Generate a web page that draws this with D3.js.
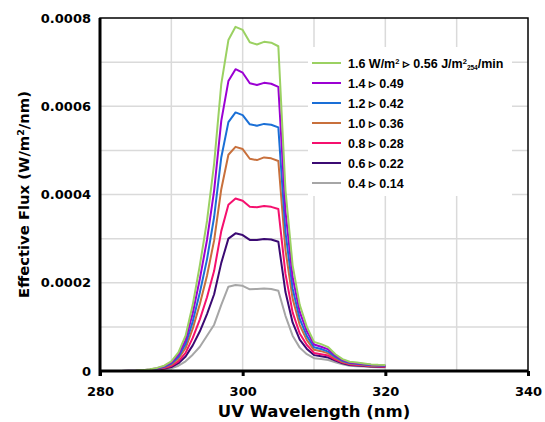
<!DOCTYPE html>
<html>
<head>
<meta charset="utf-8">
<script src="https://cdn.jsdelivr.net/npm/d3@7"></script>
<style>
  body { margin: 0; background: #fff; }
  svg { display: block; }
  .tick text { font-family: "DejaVu Sans", Arial, sans-serif; font-weight: bold; font-size: 13px; fill: #000; }
  .legend text { font-family: "Liberation Sans", Arial, sans-serif; font-weight: bold; font-size: 12.5px; fill: #000; }
</style>
</head>
<body>
<svg id="chart" width="545" height="422"></svg>
<script>
// wavelengths, nm
var wavelengths = d3.range(280, 321);

// effective flux, units of 1e-6 W/m2/nm
var flux16 = [0,0,0,0,0.5,1,2,4,7,12,22,42,80,150,240,340,470,650,750,780,773,745,740,746,744,736,410,240,150,100,66,61,54,38,27,21,19,17,15,14,13.5];
var flux14 = [0,0,0,0,0.4,0.8,1.8,3.5,6.2,10.7,19.3,37,70,131,209,297,409,567,657,684,676,652,648,653,651,644,362,213,134,90,60,55,49,35,25,19.5,17.7,15.8,14,13.1,12.6];
var flux12 = [0,0,0,0,0.3,0.7,1.7,3,5.3,9.3,16.7,32,61,112,178,253,349,484,564,586,580,559,556,560,558,552,315,187,118,79,54,50,44,32,23,18,16.3,14.7,13,12.2,11.7];
var flux10 = [0,0,0,0,0.3,0.5,1.5,2.6,4.6,8.2,14.4,27.7,52,96,152,216,296,412,490,508,503,481,478,484,482,476,274,164,104,70,48,45,40,29,21,16.7,15.2,13.7,12.1,11.4,10.9];
var flux08 = [0,0,0,0,0.2,0.3,1.3,2,3.7,6.7,11.3,22,41,75,117,167,227,317,377,391,386,372,371,374,372,367,220,133,85,59,41,38,35,26,19,15,13.7,12.3,11,10.3,9.8];
var flux06 = [0,0,0,0,0.1,0.2,1.2,1.6,3,5.5,9,17.7,33,58,90,129,174,245,300,312,308,297,297,299,298,293,179,110,71,50,36,33.5,30.5,23.4,17.3,13.7,12.5,11.3,10.1,9.5,9];
var flux04 = [0,0,0,0,0,0,1,1,2,4,6,12,22,37,55,80,105,150,191,195,193,185,186,187,186,182,125,80,53,38,29,27,25,20,15,12,11,10,9,8.5,8];

var seriesNames = ["1.6", "1.4", "1.2", "1.0", "0.8", "0.6", "0.4"];
var seriesDoses = ["0.56", "0.49", "0.42", "0.36", "0.28", "0.22", "0.14"];
var seriesColors = ["#9bd162", "#9b00d3", "#1a6fd6", "#c8703c", "#f5106e", "#3b0a73", "#a6a6a6"];
var seriesValues = [flux16, flux14, flux12, flux10, flux08, flux06, flux04];

var xTicks = [280, 300, 320, 340];
var xGrid = [290, 300, 310, 320, 330];
var yTicks = [0, 0.0002, 0.0004, 0.0006, 0.0008];
var yGrid = [0.0001, 0.0002, 0.0003, 0.0004, 0.0005, 0.0006, 0.0007];

var margin = {top: 18, right: 17, bottom: 51, left: 100},
  width = 545, height = 422,
  innerWidth = width - margin.left - margin.right,
  innerHeight = height - margin.top - margin.bottom;

var svg = d3.select("#chart");

var x = d3.scaleLinear().domain([280, 340]).range([margin.left, margin.left + innerWidth]);
var y = d3.scaleLinear().domain([0, 0.0008]).range([margin.top + innerHeight, margin.top]);

// grid
var grid = svg.append("g").attr("class", "grid")
  .attr("stroke", "#dadada").attr("stroke-width", 1.5);
grid.selectAll(".gx").data(xGrid).enter().append("line")
  .attr("x1", function(d) { return x(d); }).attr("x2", function(d) { return x(d); })
  .attr("y1", y(0)).attr("y2", y(0.0008));
grid.selectAll(".gy").data(yGrid).enter().append("line")
  .attr("x1", x(280)).attr("x2", x(340))
  .attr("y1", function(d) { return y(d); }).attr("y2", function(d) { return y(d); });

// legend background hides the grid
svg.append("rect")
  .attr("x", 308).attr("y", 47).attr("width", 204).attr("height", 149)
  .attr("fill", "#fff");

// lines
var line = d3.line()
  .x(function(d, i) { return x(wavelengths[i]); })
  .y(function(d) { return y(d * 1e-6); });

svg.append("g").attr("class", "data")
  .selectAll("path")
  .data(seriesValues.slice().reverse())
  .enter().append("path")
    .attr("fill", "none")
    .attr("stroke", function(d, i) { return seriesColors[seriesColors.length - 1 - i]; })
    .attr("stroke-width", 2)
    .attr("stroke-linejoin", "round")
    .attr("d", line);

// frame
svg.append("rect")
  .attr("x", x(280)).attr("y", y(0.0008))
  .attr("width", x(340) - x(280)).attr("height", y(0) - y(0.0008))
  .attr("fill", "none").attr("stroke", "#000").attr("stroke-width", 1.5);

// axes
var xAxis = svg.append("g")
  .attr("transform", "translate(0," + y(0) + ")")
  .call(d3.axisBottom(x).tickValues(xTicks).tickSize(5).tickPadding(11).tickFormat(d3.format("d")));
xAxis.select(".domain").attr("stroke-width", 3).attr("d", "M" + x(280) + ",0H" + x(340));
xAxis.selectAll(".tick line").attr("stroke-width", 3);

var yAxis = svg.append("g")
  .attr("transform", "translate(" + x(280) + ",0)")
  .call(d3.axisLeft(y).tickValues(yTicks).tickSize(0).tickPadding(9)
    .tickFormat(function(d) { return d === 0 ? "0" : d3.format(".4f")(d); }));
yAxis.select(".domain").attr("stroke-width", 3).attr("d", "M0," + y(0.0008) + "V" + (y(0) + 5));

// axis titles
svg.append("text")
  .attr("x", (x(280) + x(340)) / 2).attr("y", 417)
  .attr("text-anchor", "middle")
  .style("font-family", "DejaVu Sans, Arial, sans-serif").style("font-weight", "bold").style("font-size", "16.5px")
  .text("UV Wavelength (nm)");

var ylab = svg.append("text")
  .attr("transform", "translate(29," + ((y(0) + y(0.0008)) / 2) + ") rotate(-90)")
  .attr("text-anchor", "middle")
  .style("font-family", "DejaVu Sans, Arial, sans-serif").style("font-weight", "bold").style("font-size", "14.8px");
ylab.append("tspan").text("Effective Flux (W/m");
ylab.append("tspan").attr("dy", -5).style("font-size", "9.5px").text("2");
ylab.append("tspan").attr("dy", 5).text("/nm)");

// legend
var legend = svg.append("g").attr("class", "legend");
var rows = legend.selectAll("g").data(seriesNames).enter().append("g")
  .attr("transform", function(d, i) { return "translate(312," + (63 + i * 20) + ")"; });
rows.append("line")
  .attr("x1", 0).attr("x2", 29).attr("y1", 0).attr("y2", 0)
  .attr("stroke", function(d, i) { return seriesColors[i]; })
  .attr("stroke-width", 2);
rows.each(function(d, i) {
  var t = d3.select(this).append("text").attr("x", 36).attr("y", 4.5);
  if (i === 0) {
    t.append("tspan").text(d + " W/m");
    t.append("tspan").attr("dy", -4).style("font-size", "7.5px").text("2");
    t.append("tspan").attr("dy", 4).text(" \u25B9 " + seriesDoses[i] + " J/m");
    t.append("tspan").attr("dy", -4).style("font-size", "7.5px").text("2");
    t.append("tspan").attr("dy", 6).style("font-size", "6.5px").text("254");
    t.append("tspan").attr("dy", -2).text("/min");
  } else {
    t.text(d + " \u25B9 " + seriesDoses[i]);
  }
});
</script>
</body>
</html>
